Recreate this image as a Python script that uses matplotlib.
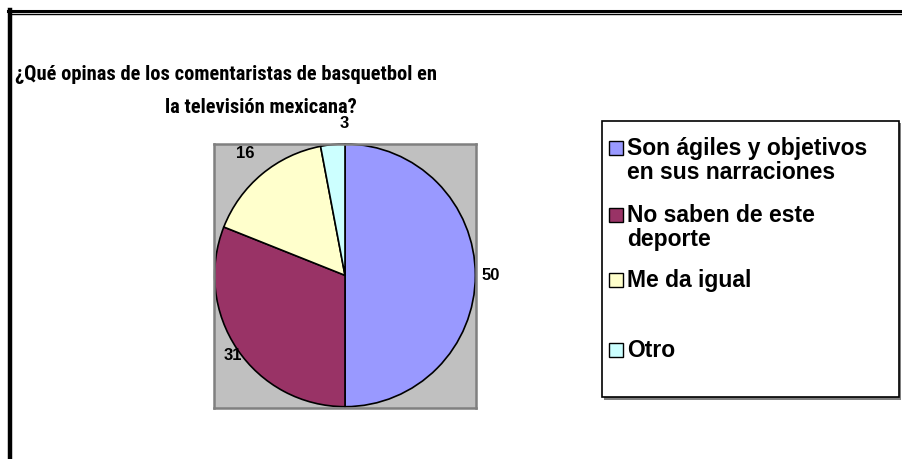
import matplotlib
matplotlib.use('Agg')
import matplotlib.pyplot as plt
import numpy as np
from matplotlib.patches import Rectangle
from matplotlib.lines import Line2D

# data
categories = [['Son ágiles y objetivos', 'en sus narraciones'], ['No saben de este', 'deporte'],
              ['Me da igual'], ['Otro']]
values = [50, 31, 16, 3]
colors = ['#9999FF', '#993366', '#FFFFCC', '#CCFFFF']
title_lines = ['¿Qué opinas de los comentaristas de basquetbol en', 'la televisión mexicana?']

W, H = 902, 459
fig = plt.figure(figsize=(W / 100, H / 100), dpi=100)

def fx(x):
    return x / W

def fy(y):
    return 1 - y / H

# outer frame (double top line, thick left line)
fig.add_artist(Line2D([fx(8), 1], [fy(11), fy(11)], color='black', lw=2.2))
fig.add_artist(Line2D([fx(12), 1], [fy(14), fy(14)], color='black', lw=1.0))
fig.add_artist(Line2D([fx(10), fx(10)], [fy(10), 0], color='black', lw=3.2))

# title
tfont = ['Liberation Sans Narrow', 'Arial Narrow', 'Roboto Condensed', 'Liberation Sans']
fig.text(fx(15), fy(80), title_lines[0], ha='left', va='baseline', fontsize=14.8,
         fontweight='bold', family=tfont)
fig.text(fx(261), fy(113), title_lines[1], ha='center', va='baseline', fontsize=14.8,
         fontweight='bold', family=tfont)

# pie
ax = fig.add_axes([fx(214), fy(408), fx(476) - fx(214), fy(144) - fy(408)])
wedges, _ = ax.pie(values, colors=colors, startangle=90, counterclock=False,
                   wedgeprops=dict(edgecolor='black', linewidth=1.2), radius=1.0)
ax.set_frame_on(True)
ax.set_facecolor('#C0C0C0')
for s in ax.spines.values():
    s.set_color('#808080')
    s.set_linewidth(1.8)
ax.set_xlim(-1.005, 1.005)
ax.set_ylim(-1.01, 1.0)
ax.set_aspect('auto')
ax.set_xticks([])
ax.set_yticks([])

label_dist = [1.12, 1.09, 1.2, 1.16]
label_dx = [0, 0.04, 0, 0.1]
for w, v, d, dx in zip(wedges, values, label_dist, label_dx):
    ang = np.deg2rad((w.theta1 + w.theta2) / 2)
    ax.text(d * np.cos(ang) + dx, d * np.sin(ang), str(v), ha='center', va='center',
            fontsize=12, fontweight='bold', family=['Liberation Sans', 'DejaVu Sans'],
            clip_on=False)

# legend box
fig.add_artist(Rectangle((fx(604), fy(399.5)), fx(901) - fx(604), fy(123) - fy(399.5),
                         facecolor='#808080', edgecolor='none'))
fig.add_artist(Rectangle((fx(602), fy(397)), fx(899) - fx(602), fy(121) - fy(397),
                         facecolor='white', edgecolor='black', lw=1.2))
leg_base = [155, 222, 287, 357]
for lines, c, yb in zip(categories, colors, leg_base):
    fig.add_artist(Rectangle((fx(609), fy(yb)), fx(14), 14 / H,
                             facecolor=c, edgecolor='black', lw=1.0))
    for i, line in enumerate(lines):
        fig.text(fx(627), fy(yb + 24 * i), line, ha='left', va='baseline', fontsize=16.5,
                 fontweight='bold', family=['Liberation Sans', 'DejaVu Sans'])

fig.savefig('out.png', dpi=100)
